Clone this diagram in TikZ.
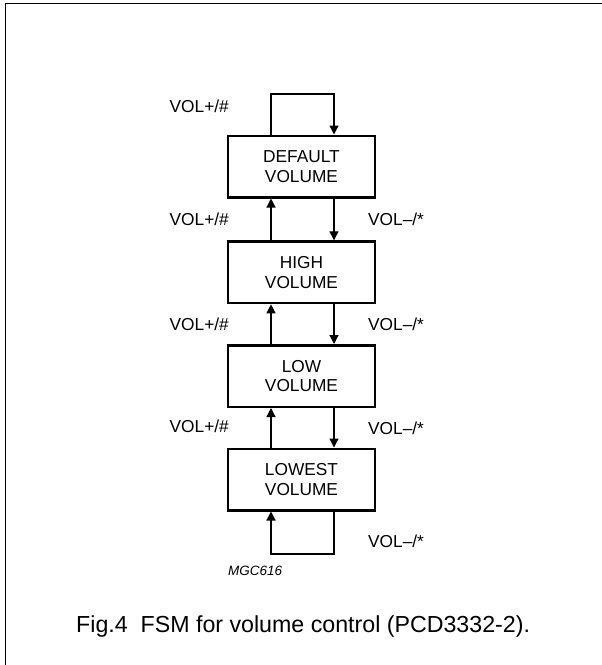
\documentclass[tikz,border=0pt]{standalone}
\usepackage{fontspec}
\setmainfont{Liberation Sans}
\usetikzlibrary{arrows.meta}
\begin{document}
\begin{tikzpicture}[x=1pt,y=-1pt,
  state/.style={draw, line width=2.5pt, minimum width=147pt, minimum height=61.5pt,
    inner sep=0pt, align=center, font=\fontsize{17.3}{19.5}\selectfont},
  lbl/.style={font=\fontsize{17.3}{19.5}\selectfont, inner sep=0pt},
  tr/.style={line width=1.2pt, -{Triangle[length=9pt,width=9pt]}},
  frameline/.style={line width=1.6pt}]
\useasboundingbox (0,0) rectangle (602,665);
\draw[frameline] (5.5,665) -- (5.5,3.5) -- (602,3.5);
\node[state] (def) at (301.5,166.5) {DEFAULT\\VOLUME};
\node[state] (high) at (301.5,272.3) {HIGH\\VOLUME};
\node[state] (low) at (301.5,376) {LOW\\VOLUME};
\node[state] (lowest) at (301.5,479.5) {LOWEST\\VOLUME};
\coordinate (ux) at (271,0);
\coordinate (dx) at (334,0);
\coordinate (tl) at (0,94);
\coordinate (bl) at (0,554);
% self loops
\draw[tr] (def.north -| ux) |- (tl -| dx) -- (def.north -| dx);
\draw[tr] (lowest.south -| dx) |- (bl -| ux) -- (lowest.south -| ux);
% up transitions
\draw[tr] (high.north -| ux) -- (def.south -| ux);
\draw[tr] (low.north -| ux) -- (high.south -| ux);
\draw[tr] (lowest.north -| ux) -- (low.south -| ux);
% down transitions
\draw[tr] (def.south -| dx) -- (high.north -| dx);
\draw[tr] (high.south -| dx) -- (low.north -| dx);
\draw[tr] (low.south -| dx) -- (lowest.north -| dx);
% labels
\node[lbl, anchor=east] (p1) at (229,106) {VOL+/\#};
\node[lbl, anchor=east] (p2) at (229,219) {VOL+/\#};
\node[lbl, anchor=east] (p3) at (229,324) {VOL+/\#};
\node[lbl, anchor=east] (p4) at (229,426) {VOL+/\#};
\node[lbl, anchor=west] (m1) at (368,219) {VOL–/*};
\node[lbl, anchor=west] (m2) at (368,324) {VOL–/*};
\node[lbl, anchor=west] (m3) at (368,428) {VOL–/*};
\node[lbl, anchor=west] (m4) at (368,541) {VOL–/*};
\node[inner sep=0pt, anchor=west, font=\fontsize{13.5}{15}\selectfont\itshape] (code) at (228,571) {MGC616};
\node[inner sep=0pt, anchor=west, font=\fontsize{23.2}{26}\selectfont] (cap) at (76,626) {Fig.4\ \ FSM for volume control (PCD3332-2).};
\end{tikzpicture}
\end{document}
